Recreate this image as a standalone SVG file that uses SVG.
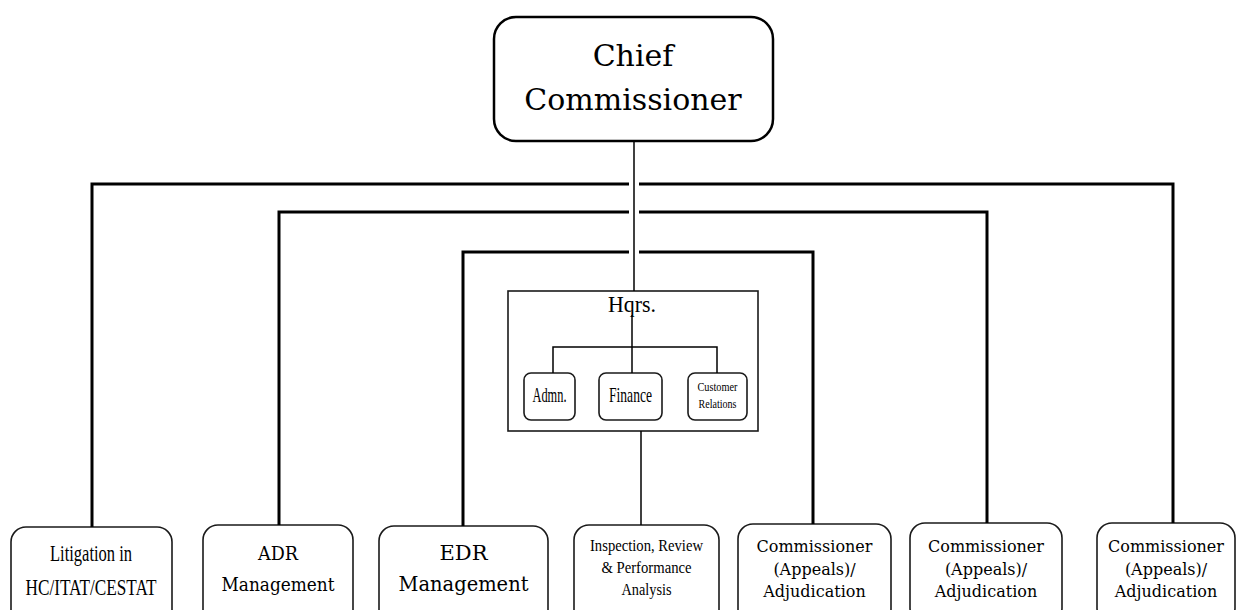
<svg xmlns="http://www.w3.org/2000/svg" width="1237" height="610" viewBox="0 0 1237 610">
  <style>
    .bg { fill: #ffffff; }
    .box { fill: #ffffff; stroke: #1a1a1a; stroke-width: 1.6; }
    .chief { fill: #ffffff; stroke: #000000; stroke-width: 2.5; }
    .wire { fill: none; stroke: #000000; stroke-width: 3; stroke-linejoin: miter; }
    .thin { fill: none; stroke: #000000; stroke-width: 1.5; }
    .wide { font-family: "DejaVu Serif", "Liberation Serif", serif; fill: #000000; text-anchor: middle; }
    .narrow { font-family: "Liberation Serif", "DejaVu Serif", serif; fill: #000000; text-anchor: middle; }
  </style>

  <rect class="bg" x="0" y="0" width="1237" height="610"/>

  <!-- top node -->
  <g id="chief-commissioner">
    <rect class="chief" x="494" y="17" width="279" height="124" rx="22" ry="22"/>
    <text class="wide" x="633" y="66" font-size="30">Chief</text>
    <text class="wide" x="633" y="110" font-size="30">Commissioner</text>
  </g>

  <!-- headquarters group -->
  <g id="hqrs">
    <rect class="box" x="508" y="291" width="250" height="140"/>
    <text class="narrow" x="632" y="312" font-size="23" textLength="48" lengthAdjust="spacingAndGlyphs">Hqrs.</text>
  </g>
  <g id="admn">
    <rect class="box" x="524" y="373" width="51" height="47" rx="7" ry="7"/>
    <text class="narrow" x="549.5" y="402" font-size="22" textLength="34" lengthAdjust="spacingAndGlyphs">Admn.</text>
  </g>
  <g id="finance">
    <rect class="box" x="599" y="373" width="63" height="47" rx="7" ry="7"/>
    <text class="narrow" x="630.5" y="402" font-size="22" textLength="43" lengthAdjust="spacingAndGlyphs">Finance</text>
  </g>
  <g id="customer-relations">
    <rect class="box" x="688" y="373" width="59" height="47" rx="7" ry="7"/>
    <text class="narrow" x="717.5" y="391" font-size="12" textLength="40" lengthAdjust="spacingAndGlyphs">Customer</text>
    <text class="narrow" x="717.5" y="408" font-size="12" textLength="38" lengthAdjust="spacingAndGlyphs">Relations</text>
  </g>

  <!-- bottom row -->
  <g id="litigation">
    <rect class="box" x="11" y="527" width="161" height="100" rx="15" ry="15"/>
    <text class="narrow" x="91" y="561" font-size="24" textLength="82" lengthAdjust="spacingAndGlyphs">Litigation in</text>
    <text class="narrow" x="91" y="595" font-size="24" textLength="131" lengthAdjust="spacingAndGlyphs">HC/ITAT/CESTAT</text>
  </g>
  <g id="adr-management">
    <rect class="box" x="203" y="525" width="150" height="100" rx="15" ry="15"/>
    <text class="wide" x="278" y="560" font-size="18" textLength="40" lengthAdjust="spacingAndGlyphs">ADR</text>
    <text class="wide" x="278" y="591" font-size="18" textLength="113" lengthAdjust="spacingAndGlyphs">Management</text>
  </g>
  <g id="edr-management">
    <rect class="box" x="379" y="526" width="169" height="100" rx="15" ry="15"/>
    <text class="wide" x="463.5" y="560" font-size="20.5" textLength="48" lengthAdjust="spacingAndGlyphs">EDR</text>
    <text class="wide" x="463.5" y="591" font-size="20.5" textLength="130" lengthAdjust="spacingAndGlyphs">Management</text>
  </g>
  <g id="inspection">
    <rect class="box" x="574" y="525" width="145" height="100" rx="15" ry="15"/>
    <text class="narrow" x="646.5" y="551" font-size="16" textLength="113" lengthAdjust="spacingAndGlyphs">Inspection, Review</text>
    <text class="narrow" x="646.5" y="573" font-size="16" textLength="90" lengthAdjust="spacingAndGlyphs">&amp; Performance</text>
    <text class="narrow" x="646.5" y="595" font-size="16" textLength="50" lengthAdjust="spacingAndGlyphs">Analysis</text>
  </g>
  <g id="commissioner-1">
    <rect class="box" x="738" y="524" width="153" height="100" rx="15" ry="15"/>
    <text class="wide" x="814.5" y="552" font-size="16">Commissioner</text>
    <text class="wide" x="814.5" y="575" font-size="16">(Appeals)/</text>
    <text class="wide" x="814.5" y="597" font-size="16">Adjudication</text>
  </g>
  <g id="commissioner-2">
    <rect class="box" x="910" y="523" width="152" height="100" rx="15" ry="15"/>
    <text class="wide" x="986" y="552" font-size="16">Commissioner</text>
    <text class="wide" x="986" y="575" font-size="16">(Appeals)/</text>
    <text class="wide" x="986" y="597" font-size="16">Adjudication</text>
  </g>
  <g id="commissioner-3">
    <rect class="box" x="1097" y="523" width="138" height="100" rx="15" ry="15"/>
    <text class="wide" x="1166" y="552" font-size="16">Commissioner</text>
    <text class="wide" x="1166" y="575" font-size="16">(Appeals)/</text>
    <text class="wide" x="1166" y="597" font-size="16">Adjudication</text>
  </g>

  <!-- connectors, drawn last so they sit on top of the box fills -->
  <g id="connectors">
    <!-- trunk from the chief down to headquarters -->
    <line class="thin" x1="634" y1="141" x2="634" y2="291"/>
    <!-- outer branch: Litigation / right-most Commissioner -->
    <polyline class="wire" points="629,184 92,184 92,527"/>
    <polyline class="wire" points="639,184 1173,184 1173,523"/>
    <!-- middle branch: ADR / second Commissioner -->
    <polyline class="wire" points="629,212 279,212 279,525"/>
    <polyline class="wire" points="639,212 987,212 987,523"/>
    <!-- inner branch: EDR / first Commissioner -->
    <polyline class="wire" points="629,252 463,252 463,526"/>
    <polyline class="wire" points="639,252 813,252 813,524"/>
    <!-- headquarters internal tree -->
    <line class="thin" x1="632" y1="315" x2="632" y2="373"/>
    <polyline class="thin" points="553,373 553,347 717,347 717,373"/>
    <!-- headquarters down to Inspection -->
    <line class="thin" x1="641" y1="431" x2="641" y2="525"/>
  </g>
</svg>
